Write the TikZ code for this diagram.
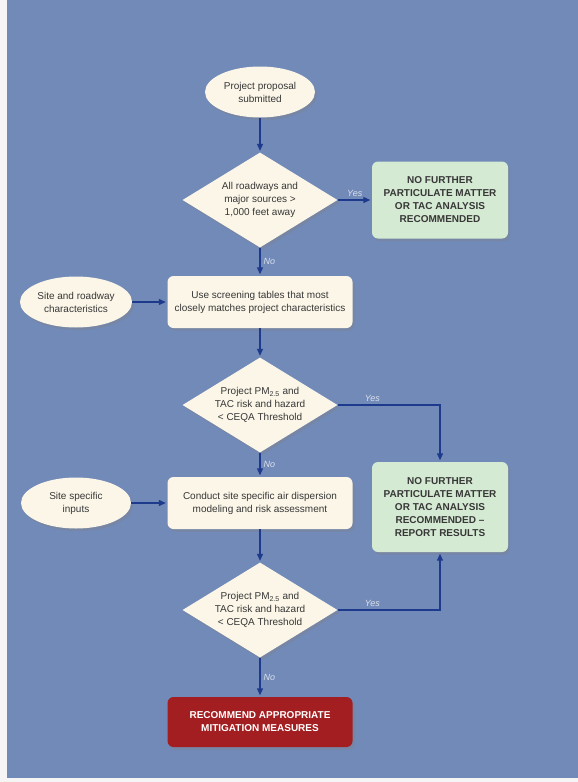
\documentclass[tikz,border=0pt]{standalone}
\usepackage{fontspec}
\setmainfont{Liberation Sans}
\usetikzlibrary{shapes.geometric,shadows,arrows.meta}
\definecolor{bgblue}{RGB}{113,138,184}
\definecolor{cream}{RGB}{251,246,232}
\definecolor{mint}{RGB}{212,234,210}
\definecolor{alert}{RGB}{163,30,32}
\definecolor{flow}{RGB}{30,58,140}
\definecolor{ink}{RGB}{55,55,55}
\definecolor{lbl}{RGB}{218,224,236}

\begin{document}
\begin{tikzpicture}[x=1pt, y=-1pt]
	\tikzstyle{every node}=[inner sep=1pt, align=center, text=ink, font=\fontsize{10}{13}\selectfont]
	\tikzstyle{dropshade}=[drop shadow={opacity=0.35, shadow xshift=2pt, shadow yshift=-2.5pt}]
	\tikzstyle{terminal}=[ellipse, fill=cream, dropshade, minimum width=110pt, minimum height=51pt]
	\tikzstyle{process}=[rectangle, rounded corners=6pt, fill=cream, dropshade, minimum width=185pt, minimum height=52pt]
	\tikzstyle{decision}=[diamond, aspect=1.63, inner sep=0pt, fill=cream, dropshade, minimum width=155pt, minimum height=95pt]
	\tikzstyle{result}=[rectangle, rounded corners=6pt, fill=mint, dropshade, minimum width=136pt, font=\fontsize{10}{13}\selectfont\bfseries]
	\tikzstyle{stopbox}=[rectangle, rounded corners=6pt, fill=alert, text=white, dropshade, minimum width=185pt, minimum height=50pt, font=\fontsize{10}{13}\selectfont\bfseries]
	\tikzstyle{flowline}=[flow, line width=1.2pt, -{Triangle[length=7pt, width=6pt]}, shorten >=1.5pt]
	\tikzstyle{answer}=[text=lbl, font=\fontsize{9}{11}\selectfont\itshape, inner sep=3pt]
	% page and background
	\useasboundingbox (0, 0) rectangle (578, 782);
	\fill [gray!8] (0, 0) rectangle (578, 782);
	\fill [bgblue] (7, 0) rectangle (578, 778);
	% nodes
	\node [terminal] (P) at (260, 92) {Project proposal\\submitted};
	\node [decision] (D1) at (260, 200) {All roadways and\\major sources >\\1,000 feet away};
	\node [result, minimum height=77pt] (G1) at (440, 200) {NO FURTHER\\PARTICULATE MATTER\\OR TAC ANALYSIS\\RECOMMENDED};
	\node [process] (B2) at (260, 302) {Use screening tables that most\\closely matches project characteristics};
	\node [terminal] (E2) at (76, 302) {Site and roadway\\characteristics};
	\node [decision] (D2) at (260, 405) {Project PM\textsubscript{2.5} and\\TAC risk and hazard\\< CEQA Threshold};
	\node [process] (B3) at (260, 503) {Conduct site specific air dispersion\\modeling and risk assessment};
	\node [terminal] (E3) at (76, 503) {Site specific\\inputs};
	\node [result, minimum height=90pt] (G2) at (440, 507) {NO FURTHER\\PARTICULATE MATTER\\OR TAC ANALYSIS\\RECOMMENDED –\\REPORT RESULTS};
	\node [decision] (D3) at (260, 610) {Project PM\textsubscript{2.5} and\\TAC risk and hazard\\< CEQA Threshold};
	\node [stopbox] (R) at (260, 722) {RECOMMEND APPROPRIATE\\MITIGATION MEASURES};
	% connectors
	\draw [flowline] (P) -- (D1);
	\draw [flowline] (D1) -- (G1) node[answer, midway, above] {Yes};
	\draw [flowline] (D1) -- (B2) node[answer, midway, right] {No};
	\draw [flowline] (E2) -- (B2);
	\draw [flowline] (B2) -- (D2);
	\draw [flowline] (D2.east) -| (G2.north) node[answer, pos=0.17, above] {Yes};
	\draw [flowline] (D2) -- (B3) node[answer, midway, right] {No};
	\draw [flowline] (E3) -- (B3);
	\draw [flowline] (B3) -- (D3);
	\draw [flowline] (D3.east) -| (G2.south) node[answer, pos=0.17, above] {Yes};
	\draw [flowline] (D3) -- (R) node[answer, midway, right] {No};
\end{tikzpicture}
\end{document}
